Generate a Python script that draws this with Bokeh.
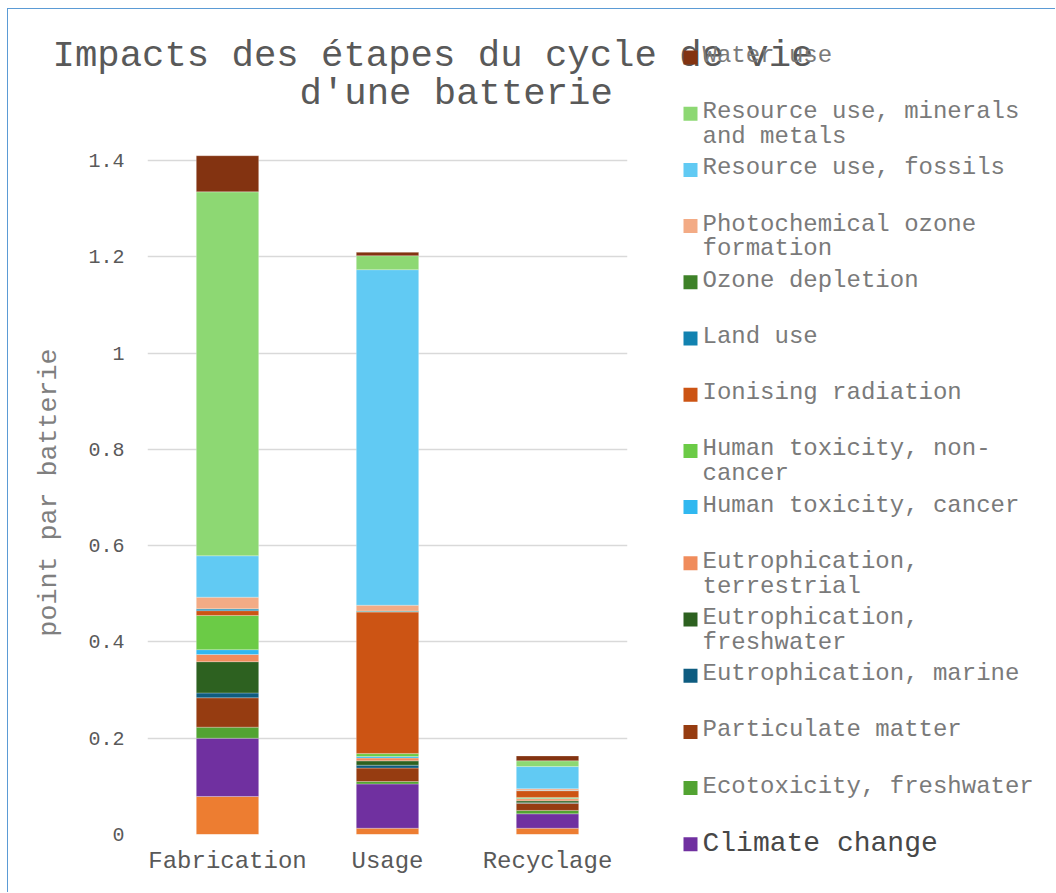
from bokeh.plotting import figure
from bokeh.models import ColumnDataSource, FactorRange, Range1d, FixedTicker, NumeralTickFormatter
from bokeh.layouts import column, row
from bokeh.core.properties import value
from bokeh.embed import file_html
from bokeh.resources import INLINE

# ---------------- data ----------------
stages = ["Fabrication", "Usage", "Recyclage"]

# stack order, bottom to top
impacts = [
    "Acidification",
    "Climate change",
    "Ecotoxicity, freshwater",
    "Particulate matter",
    "Eutrophication, marine",
    "Eutrophication, freshwater",
    "Eutrophication, terrestrial",
    "Human toxicity, cancer",
    "Human toxicity, non-cancer",
    "Ionising radiation",
    "Land use",
    "Ozone depletion",
    "Photochemical ozone formation",
    "Resource use, fossils",
    "Resource use, minerals and metals",
    "Water use",
]

acidification = [0.079, 0.013, 0.013]
climate_change = [0.121, 0.092, 0.030]
ecotoxicity_freshwater = [0.023, 0.005, 0.007]
particulate_matter = [0.061, 0.028, 0.015]
eutrophication_marine = [0.010, 0.006, 0.001]
eutrophication_freshwater = [0.065, 0.009, 0.004]
eutrophication_terrestrial = [0.015, 0.006, 0.004]
human_toxicity_cancer = [0.010, 0.003, 0.001]
human_toxicity_non_cancer = [0.071, 0.006, 0.002]
ionising_radiation = [0.010, 0.294, 0.014]
land_use = [0.0035, 0.002, 0.001]
ozone_depletion = [0.0005, 0.0003, 0.0001]
photochemical_ozone = [0.024, 0.012, 0.003]
resource_fossils = [0.086, 0.697, 0.046]
resource_minerals = [0.756, 0.029, 0.012]
water_use = [0.075, 0.007, 0.010]

series = [
    acidification, climate_change, ecotoxicity_freshwater, particulate_matter,
    eutrophication_marine, eutrophication_freshwater, eutrophication_terrestrial,
    human_toxicity_cancer, human_toxicity_non_cancer, ionising_radiation, land_use,
    ozone_depletion, photochemical_ozone, resource_fossils, resource_minerals, water_use,
]

colors = [
    "#ED7D31", "#7030A0", "#52A332", "#963C11",
    "#0E5C80", "#2D6120", "#F08C5C",
    "#30B8F0", "#6BCB46", "#CC5414", "#1282B0",
    "#3E8228", "#F3AB85", "#61CAF3", "#8DD873", "#833311",
]

# legend (top to bottom), with the wrapped lines as in the picture
legend_items = [
    ("Water use", ["Water use"]),
    ("Resource use, minerals and metals", ["Resource use, minerals", "and metals"]),
    ("Resource use, fossils", ["Resource use, fossils"]),
    ("Photochemical ozone formation", ["Photochemical ozone", "formation"]),
    ("Ozone depletion", ["Ozone depletion"]),
    ("Land use", ["Land use"]),
    ("Ionising radiation", ["Ionising radiation"]),
    ("Human toxicity, non-cancer", ["Human toxicity, non-", "cancer"]),
    ("Human toxicity, cancer", ["Human toxicity, cancer"]),
    ("Eutrophication, terrestrial", ["Eutrophication,", "terrestrial"]),
    ("Eutrophication, freshwater", ["Eutrophication,", "freshwater"]),
    ("Eutrophication, marine", ["Eutrophication, marine"]),
    ("Particulate matter", ["Particulate matter"]),
    ("Ecotoxicity, freshwater", ["Ecotoxicity, freshwater"]),
    ("Climate change", ["Climate change"]),
]

title_lines = ["Impacts des étapes du cycle de vie", "d'une batterie"]
y_ticks = [0, 0.2, 0.4, 0.6, 0.8, 1.0, 1.2, 1.4]

# ---------------- layout constants (page pixels) ----------------
FONT = "Liberation Mono"
LEFT, TOP = 8, 9            # content origin (inside the blue border)
SPLIT_Y = 149               # bottom of the title strip
SPLIT_X = 660               # chart | legend boundary
RIGHT, BOTTOM = 1055, 892
FRAME_L, FRAME_R, FRAME_B = 147, 627, 834
MID = 0.2665                # baseline -> text middle, in em (Liberation Mono)

# ---------------- chart ----------------
src_data = {"stage": stages}
for name, vals in zip(impacts, series):
    src_data[name] = vals
source = ColumnDataSource(src_data)

frame_top = SPLIT_Y + 1
chart = figure(
    x_range=FactorRange(*stages), y_range=Range1d(0, (FRAME_B - frame_top) / 481.4),
    width=SPLIT_X - LEFT, height=BOTTOM - SPLIT_Y,
    output_backend="svg", toolbar_location=None,
    min_border_left=FRAME_L - LEFT, min_border_right=SPLIT_X - FRAME_R,
    min_border_top=frame_top - SPLIT_Y, min_border_bottom=BOTTOM - FRAME_B,
)
chart.outline_line_color = None
chart.vbar_stack(impacts, x="stage", width=0.39, color=colors, source=source,
                 line_color="white", line_alpha=0.35, line_width=0.75)
chart.xgrid.grid_line_color = None
chart.ygrid.grid_line_color = "#D9D9D9"
chart.ygrid.grid_line_width = 1.3
chart.yaxis.ticker = FixedTicker(ticks=y_ticks)
chart.yaxis.formatter = NumeralTickFormatter(format="0.[0]")
for ax in (chart.xaxis, chart.yaxis):
    ax.axis_line_color = None
    ax.major_tick_line_color = None
    ax.minor_tick_line_color = None
    ax.major_label_text_font = FONT
    ax.major_label_text_color = "#595959"
chart.yaxis.major_label_text_font_size = "20px"
chart.yaxis.major_label_standoff = 17
chart.yaxis.axis_label = "point par batterie"
chart.yaxis.axis_label_text_font = FONT
chart.yaxis.axis_label_text_font_size = "26.7px"
chart.yaxis.axis_label_text_font_style = "normal"
chart.yaxis.axis_label_text_color = "#7F7F7F"
chart.yaxis.axis_label_standoff = 21
chart.xaxis.major_label_text_font_size = "24px"
chart.xaxis.major_label_standoff = 7


def blank(width, height, x0, x1, y0, y1):
    f = figure(width=width, height=height, x_range=Range1d(x0, x1), y_range=Range1d(y1, y0),
               x_axis_type=None, y_axis_type=None, output_backend="svg", toolbar_location=None,
               min_border=0, min_border_left=0, min_border_right=0, min_border_top=0,
               min_border_bottom=0)
    f.outline_line_color = None
    f.grid.visible = False
    return f


strip = blank(RIGHT - LEFT, SPLIT_Y - TOP, LEFT, RIGHT, TOP, SPLIT_Y)
side = blank(RIGHT - SPLIT_X, BOTTOM - SPLIT_Y, SPLIT_X, RIGHT, SPLIT_Y, BOTTOM)


def put_text(fig, xs, baselines, texts, size, color):
    fig.text(x=xs, y=[b - MID * size for b in baselines], text=texts, text_font=value(FONT),
             text_font_size=value(f"{size}px"), text_color=color,
             text_baseline="middle", text_align="left")


# title
put_text(strip, [52, 299], [65, 103], title_lines, 37.3, "#595959")

# legend
color_of = dict(zip(impacts, colors))
for i, (name, lines) in enumerate(legend_items):
    cy = 57 + i * 56.2
    big = name == "Climate change"
    target = strip if cy < SPLIT_Y else side
    target.scatter(x=[690], y=[cy], marker="square", size=14, fill_color=color_of[name],
                   line_color=None)
    size = 28 if big else 24
    base = [cy + (6.5 if big else 4.3) + 24.8 * j for j in range(len(lines))]
    put_text(target, [702] * len(lines), base, lines, size, "#474747" if big else "#7A7A7A")

layout = column(strip, row(chart, column(side)),
                styles={"margin-left": "7px", "margin-top": "8px",
                        "border-left": "1px solid #5B9BD5", "border-top": "1px solid #5B9BD5"})
open("out.html", "w").write(file_html(layout, INLINE))
